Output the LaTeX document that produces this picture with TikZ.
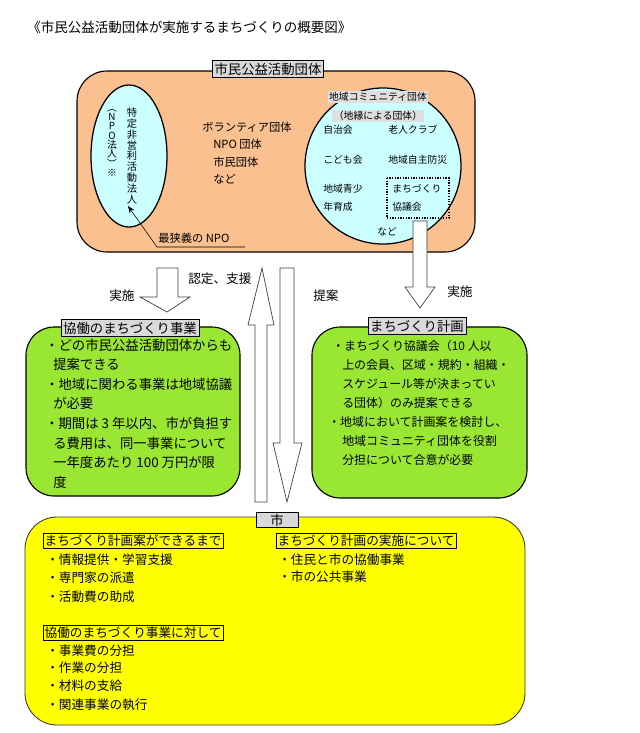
\documentclass[tikz,border=0pt]{standalone}
\usepackage{fontspec}
\setmainfont{Noto Sans CJK JP}
\usepackage{xcolor}
\usepackage{tikz}
\usetikzlibrary{arrows.meta,positioning,shapes}

\definecolor{dantai}{RGB}{250,192,143}
\definecolor{mizu}{RGB}{204,255,255}
\definecolor{midori}{RGB}{153,230,51}
\definecolor{kiiro}{RGB}{255,255,0}
\definecolor{haiiro}{RGB}{217,217,217}

\tikzset{
  midashi/.style={draw, fill=haiiro, inner sep=1.5pt, font=\fontsize{9.5}{11}\selectfont},
  waku/.style={draw, inner sep=1pt, anchor=west, font=\fontsize{9}{11}\selectfont},
  komoji/.style={anchor=west, inner sep=0pt, font=\fontsize{7}{8}\selectfont},
  honbun/.style={anchor=west, inner sep=0pt, font=\fontsize{9}{11}\selectfont},
  yajirushi/.style={draw=black!75, fill=white, line width=0.5pt}
}

\begin{document}
\begin{tikzpicture}[x=0.025cm, y=-0.025cm]
\useasboundingbox (0,0) rectangle (640,733);

\node[anchor=west, inner sep=0pt, font=\fontsize{9.6}{11}\selectfont] (daimei) at (27,27) {《市民公益活動団体が実施するまちづくりの概要図》};

\draw[fill=dantai, line width=0.8pt, rounded corners=0.75cm] (77,71) rectangle (475,252);
\node[midashi] (shimin) at (268,69) {市民公益活動団体};

\draw[fill=mizu, line width=0.9pt] (129,156) ellipse [x radius=38, y radius=71];
\node[align=center, inner sep=0pt, font=\fontsize{7.3}{7.7}\selectfont] (tokutei) at (132,156) {特\\定\\非\\営\\利\\活\\動\\法\\人};
\node[align=center, inner sep=0pt, font=\fontsize{7}{6.6}\selectfont] (npohojin) at (112,143) {︵\\N\\P\\O\\法\\人\\︶\\※};

\node[anchor=west, inner sep=0pt, font=\fontsize{8}{9}\selectfont] (saikyogi) at (158,238) {最狭義の NPO};
\coordinate (npo-sen) at (245,247);
\coordinate (kagi) at (157,247);
\coordinate (npo-ya) at (128,206);
\draw[-{Stealth[length=5pt,width=4pt]}] (npo-sen) -- (kagi) -- (npo-ya);

\foreach \x/\y/\t [count=\i] in {202/127/ボランティア団体, 213/144/NPO 団体, 213/162/市民団体, 213/179/など}
  \node[anchor=west, inner sep=0pt, font=\fontsize{8}{9}\selectfont] (volu\i) at (\x,\y) {\t};

\draw[fill=mizu, line width=0.9pt] (383,166) circle [radius=78];
\node[fill=haiiro!85, inner sep=1pt, font=\fontsize{7}{8}\selectfont] (chiiki) at (378,97) {地域コミュニティ団体};
\node[fill=haiiro!85, inner sep=1pt, font=\fontsize{7}{8}\selectfont] (chien) at (378,116) {（地縁による団体）};
\foreach \x/\y/\t [count=\i] in {323/130/自治会, 388/130/老人クラブ, 323/160/こども会, 388/160/地域自主防災, 323/189/地域青少, 323/207/年育成, 392/189/まちづくり, 392/207/協議会, 377/232/など}
  \node[komoji] (comm\i) at (\x,\y) {\t};
\draw[densely dotted, line width=0.9pt] (387,178) rectangle (449,218);

\draw[yajirushi] (413,221) -- (427,221) -- (427,287) -- (435,287) -- (420,308) -- (405,287) -- (413,287) -- cycle;
\draw[yajirushi] (157,268) -- (178,268) -- (178,297) -- (190,297) -- (167,312) -- (140,297) -- (157,297) -- cycle;
\draw[yajirushi] (262,268) -- (274,325) -- (267,325) -- (267,502) -- (255,502) -- (255,325) -- (248,325) -- cycle;
\draw[yajirushi] (280,268) -- (294,268) -- (294,443) -- (302,443) -- (287,502) -- (273,443) -- (280,443) -- cycle;

\node[honbun] (jisshi1) at (109,296) {実施};
\node[honbun] (nintei) at (188,279) {認定、支援};
\node[honbun] (teian) at (313,296) {提案};
\node[honbun] (jisshi2) at (447,292) {実施};

\draw[fill=midori, line width=0.8pt, rounded corners=0.7cm] (26,327) rectangle (240,496);
\node[midashi] (kyodo) at (130,328) {協働のまちづくり事業};
\foreach \x/\t [count=\i] in {45/・どの市民公益活動団体からも, 53/提案できる, 45/・地域に関わる事業は地域協議, 53/が必要, 45/・期間は 3 年以内、市が負担す, 53/る費用は、同一事業について, 53/一年度あたり 100 万円が限, 53/度}
  \node[anchor=west, inner sep=0pt, font=\fontsize{9.5}{11}\selectfont] (kyodo\i) at (\x,345+19.6*\i-19.6) {\t};

\draw[fill=midori, line width=0.8pt, rounded corners=0.7cm] (312,327) rectangle (527,498);
\node[midashi] (keikaku) at (417,326) {まちづくり計画};
\foreach \x/\t [count=\i] in {332/・まちづくり協議会（10 人以, 342/上の会員、区域・規約・組織・, 342/スケジュール等が決まってい, 342/る団体）のみ提案できる, 328/・地域において計画案を検討し、, 342/地域コミュニティ団体を役割, 342/分担について合意が必要}
  \node[anchor=west, inner sep=0pt, font=\fontsize{8.5}{10}\selectfont] (keikaku\i) at (\x,346+19*\i-19) {\t};

\draw[fill=kiiro, draw=black!80, line width=0.6pt, rounded corners=0.8cm] (25,517) rectangle (525,725);
\node[midashi, minimum width=42*0.025cm, inner sep=1pt] (shi) at (277,520) {市};

\node[waku] (made) at (43,541) {まちづくり計画案ができるまで};
\foreach \y/\t [count=\i] in {560/・情報提供・学習支援, 578/・専門家の派遣, 597/・活動費の助成}
  \node[honbun] (made\i) at (46,\y) {\t};
\node[waku] (taishite) at (43,633) {協働のまちづくり事業に対して};
\foreach \y/\t [count=\i] in {651/・事業費の分担, 668/・作業の分担, 686/・材料の支給, 705/・関連事業の執行}
  \node[honbun] (taishite\i) at (46,\y) {\t};
\node[waku] (jisshini) at (276,541) {まちづくり計画の実施について};
\foreach \y/\t [count=\i] in {560/・住民と市の協働事業, 577/・市の公共事業}
  \node[honbun] (jisshini\i) at (278,\y) {\t};
\end{tikzpicture}
\end{document}
